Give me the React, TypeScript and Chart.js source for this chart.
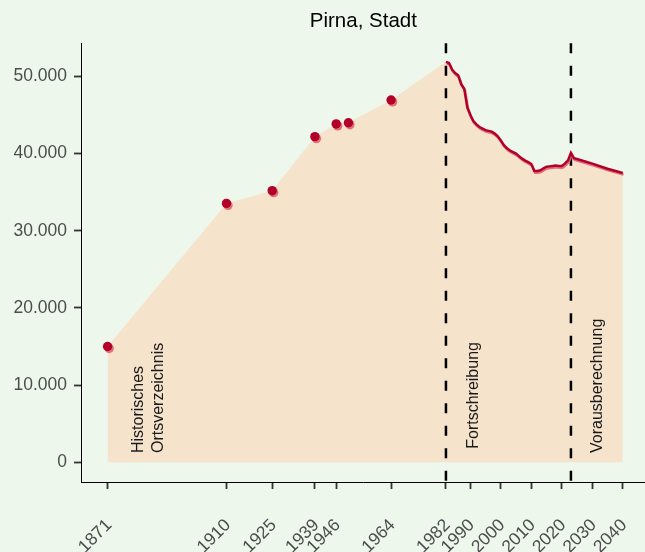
import React, { useEffect, useRef } from "react";
import { Chart, registerables } from "chart.js";

Chart.register(...registerables);

const chartTitle = "Pirna, Stadt";

const histYears = [1871, 1910, 1925, 1939, 1946, 1950, 1964];
const histValues = [15000, 33550, 35200, 42200, 43850, 44000, 46950];

const fortYears = [
  1982, 1983, 1984, 1985, 1986, 1987, 1988, 1989, 1990, 1991, 1992, 1993, 1994, 1995,
  1996, 1997, 1998, 1999, 2000, 2001, 2002, 2003, 2004, 2005, 2006, 2007, 2008, 2009,
  2010, 2011, 2012, 2013, 2014, 2015, 2016, 2017, 2018, 2019, 2020, 2021, 2022, 2023,
];
const fortValues = [
  51900, 51750, 50900, 50450, 50150, 49000, 48400, 46000, 45000, 44200, 43800, 43450, 43250, 43050,
  42950, 42850, 42600, 42250, 41700, 41100, 40700, 40400, 40200, 40000, 39650, 39350, 39100, 38900,
  38650, 37750, 37750, 37850, 38100, 38300, 38350, 38400, 38450, 38400, 38400, 38700, 39100, 40100,
];

const projYears = [2024, 2025, 2030, 2035, 2040];
const projValues = [39400, 39300, 38700, 38050, 37500];

const xTickYears = [1871, 1910, 1925, 1939, 1946, 1964, 1982, 1990, 2000, 2010, 2020, 2030, 2040];
const yTickValues = [0, 10000, 20000, 30000, 40000, 50000];

const markerYears = [1982, 2023];

const annotationLabels = ["Historisches", "Ortsverzeichnis", "Fortschreibung", "Vorausberechnung"];
const annotationYears = [1881.1, 1887.7, 1991.0, 2031.6];
const annotationValues = [1200, 1200, 1750, 1200];

const FONT = '"Liberation Sans", Arial, Helvetica, sans-serif';
const BG = "#edf7ec";
const AREA = "#f5e3cc";
const DARK_RED = "#b3002a";
const SHADOW_RED = "rgba(224,105,118,0.95)";
const CANVAS_W = 645;
const CANVAS_H = 552;

function fmtThousands(v: number): string {
  return String(v).replace(/\B(?=(\d{3})+(?!\d))/g, ".");
}

const toXY = (xs: number[], ys: number[]) => xs.map((x, i) => ({ x, y: ys[i] }));

export default function App() {
  const ref = useRef<HTMLCanvasElement | null>(null);

  useEffect(() => {
    if (!ref.current) return;

    const areaData = [
      ...toXY(histYears, histValues),
      ...toXY(fortYears, fortValues),
      ...toXY(projYears, projValues),
    ];
    const lineData = [...toXY(fortYears, fortValues), ...toXY(projYears, projValues)];
    const pointData = toXY(histYears, histValues);

    const layoutFixPlugin = {
      id: "layoutFixPlugin",
      afterLayout(chart: any) {
        const xs = chart.scales.x;
        const area = chart.chartArea;
        if (area.right < CANVAS_W) {
          area.right = CANVAS_W;
          area.width = CANVAS_W - area.left;
          xs.right = CANVAS_W;
          xs.width = CANVAS_W - xs.left;
          xs.configure();
        }
      },
    };

    const shadowPlugin = {
      id: "shadowPlugin",
      beforeDatasetDraw(chart: any, args: any) {
        const ds = chart.data.datasets[args.index];
        if (ds.shadow) {
          const ctx = chart.ctx;
          ctx.save();
          ctx.shadowColor = SHADOW_RED;
          ctx.shadowOffsetX = ds.shadow[0];
          ctx.shadowOffsetY = ds.shadow[1];
          ctx.shadowBlur = 0;
        }
      },
      afterDatasetDraw(chart: any, args: any) {
        const ds = chart.data.datasets[args.index];
        if (ds.shadow) chart.ctx.restore();
      },
    };

    const overlayPlugin = {
      id: "overlayPlugin",
      afterDatasetDraw(chart: any, args: any) {
        const ds = chart.data.datasets[args.index];
        if (!ds.isArea) return;
        const ctx = chart.ctx;
        const xs = chart.scales.x;
        const ys = chart.scales.y;
        const area = chart.chartArea;
        ctx.save();
        ctx.strokeStyle = "#000";
        ctx.lineWidth = 2.5;
        ctx.setLineDash([10, 12.5]);
        markerYears.forEach((yr) => {
          const px = xs.getPixelForValue(yr);
          ctx.beginPath();
          ctx.moveTo(px, area.top);
          ctx.lineTo(px, area.bottom);
          ctx.stroke();
        });
        ctx.restore();
        ctx.save();
        ctx.fillStyle = "#1a1a1a";
        ctx.font = `16px ${FONT}`;
        ctx.textAlign = "left";
        ctx.textBaseline = "middle";
        annotationLabels.forEach((t, i) => {
          const px = xs.getPixelForValue(annotationYears[i]);
          const py = ys.getPixelForValue(annotationValues[i]);
          ctx.save();
          ctx.translate(px, py);
          ctx.rotate(-Math.PI / 2);
          ctx.fillText(t, 0, 0);
          ctx.restore();
        });
        ctx.restore();
      },
      afterDraw(chart: any) {
        const ctx = chart.ctx;
        const area = chart.chartArea;
        const xs = chart.scales.x;
        ctx.save();
        ctx.fillStyle = "#000";
        ctx.font = `20.5px ${FONT}`;
        ctx.textAlign = "center";
        ctx.textBaseline = "alphabetic";
        ctx.fillText(chartTitle, (area.left + area.right) / 2, 26.7);
        ctx.restore();
        ctx.save();
        ctx.fillStyle = "#4d4d4d";
        ctx.font = `17.5px ${FONT}`;
        ctx.textAlign = "right";
        ctx.textBaseline = "middle";
        xTickYears.forEach((yr) => {
          const px = xs.getPixelForValue(yr);
          ctx.save();
          ctx.translate(px + 1.5, area.bottom + 40);
          ctx.rotate(-Math.PI / 4);
          ctx.fillText(String(yr), 0, 0);
          ctx.restore();
        });
        ctx.restore();
      },
    };

    const chart = new Chart(ref.current, {
      type: "scatter",
      data: {
        datasets: [
          {
            type: "scatter",
            data: pointData,
            backgroundColor: DARK_RED,
            borderWidth: 0,
            pointRadius: 4.7,
            pointHoverRadius: 4.7,
            order: 1,
            shadow: [1.5, 1.9],
          } as any,
          {
            type: "line",
            data: lineData,
            borderColor: DARK_RED,
            borderWidth: 2.5,
            pointRadius: 0,
            tension: 0,
            fill: false,
            order: 2,
            shadow: [0.8, 1.7],
          } as any,
          {
            type: "line",
            data: areaData,
            borderWidth: 0,
            borderColor: "rgba(0,0,0,0)",
            backgroundColor: AREA,
            pointRadius: 0,
            tension: 0,
            fill: "origin",
            order: 3,
            isArea: true,
          } as any,
        ],
      },
      options: {
        animation: false,
        responsive: false,
        events: [],
        layout: { padding: { top: 43.3, left: 0, right: 0, bottom: 0 } },
        plugins: {
          legend: { display: false },
          title: { display: false },
          tooltip: { enabled: false },
        },
        scales: {
          x: {
            type: "linear",
            min: 1862.5,
            max: 2047.3,
            afterBuildTicks: (scale: any) => {
              scale.ticks = xTickYears.map((v) => ({ value: v }));
            },
            afterFit: (scale: any) => {
              scale.height = CANVAS_H - 482.5;
              scale.paddingLeft = 0;
              scale.paddingRight = 0;
            },
            grid: {
              drawOnChartArea: false,
              drawTicks: true,
              tickLength: 6.5,
              tickColor: "#333",
              tickWidth: 1.8,
            },
            border: { display: true, color: "#000", width: 1 },
            ticks: {
              display: false,
              autoSkip: false,
            },
          },
          y: {
            type: "linear",
            min: -2620,
            max: 54300,
            afterBuildTicks: (scale: any) => {
              scale.ticks = yTickValues.map((v) => ({ value: v }));
            },
            afterFit: (scale: any) => {
              scale.width = 81.7;
              scale.paddingTop = 0;
              scale.paddingBottom = 0;
            },
            grid: {
              drawOnChartArea: false,
              drawTicks: true,
              tickLength: 7.7,
              tickColor: "#333",
              tickWidth: 1.8,
            },
            border: { display: true, color: "#000", width: 1 },
            ticks: {
              padding: 7,
              color: "#4d4d4d",
              font: { family: FONT, size: 17.5 },
              callback: (v: any) => fmtThousands(Number(v)),
            },
          },
        },
      } as any,
      plugins: [layoutFixPlugin, shadowPlugin, overlayPlugin],
    });

    return () => chart.destroy();
  }, []);

  return (
    <div
      style={{
        position: "absolute",
        left: 0,
        top: 0,
        width: CANVAS_W,
        height: CANVAS_H,
        background: BG,
        overflow: "hidden",
      }}
    >
      <canvas ref={ref} width={CANVAS_W} height={CANVAS_H} style={{ display: "block" }} />
    </div>
  );
}
